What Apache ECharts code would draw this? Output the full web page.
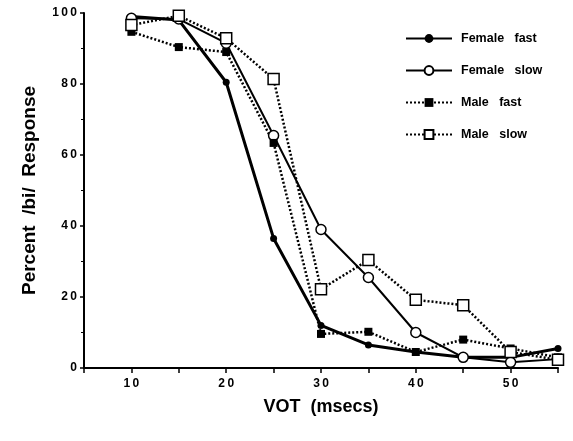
<!DOCTYPE html>
<html>
<head>
<meta charset="utf-8">
<script src="https://cdn.jsdelivr.net/npm/echarts@6/dist/echarts.min.js"></script>
<style>
html,body{margin:0;padding:0;background:#fff;}
#main{width:573px;height:441px;}
</style>
</head>
<body>
<div id="main"></div>
<script>
// VOT values (msecs)
var vot = [10, 15, 20, 25, 30, 35, 40, 45, 50, 55];
// percent /bi/ responses
var femaleFast = [99, 98, 80.5, 36.5, 12, 6.5, 4.5, 3, 3, 5.5];
var femaleSlow = [98.5, 98.3, 91.5, 65.5, 39, 25.5, 10, 3, 1.6, 2.5];
var maleFast = [94.7, 90.4, 89, 63.4, 9.6, 10.2, 4.5, 8, 5.5, 3];
var maleSlow = [96.6, 99.2, 92.9, 81.4, 22.2, 30.4, 19.2, 17.7, 4.5, 2.3];
var names = ['Female   fast', 'Female   slow', 'Male   fast', 'Male   slow'];

function pairs(arr){
	var out = [];
	for (var i = 0; i < vot.length; i++){
		out.push([vot[i], arr[i]]);
	}
	return out;
}
// spaced-out digits like the old plot
function spaced(v){
	return String(v).split('').join('\u2009');
}

var myChart = echarts.init(document.getElementById('main'));
var fnt = 'Liberation Sans, Arial, sans-serif';
var option = {
	animation: false,
	backgroundColor: '#fff',
	grid: {left: 84, right: 15, top: 13, bottom: 73},
	legend: {
		orient: 'vertical',
		left: 400,
		top: 27,
		itemWidth: 46,
		itemHeight: 11,
		itemGap: 19,
		textStyle: {fontFamily: fnt, fontWeight: 'bold', fontSize: 12.5, color: '#000', padding: [0, 0, 0, 4]},
		data: names
	},
	xAxis: {
		type: 'value',
		min: 5,
		max: 55,
		interval: 5,
		name: 'VOT  (msecs)',
		nameLocation: 'middle',
		nameGap: 30,
		nameTextStyle: {fontFamily: fnt, fontWeight: 'bold', fontSize: 18, color: '#000'},
		axisLine: {lineStyle: {color: '#000', width: 2}},
		axisTick: {length: 5, lineStyle: {color: '#000', width: 1.5}},
		splitLine: {show: false},
		axisLabel: {
			margin: 10,
			fontFamily: fnt, fontWeight: 'bold', fontSize: 12, color: '#000',
			formatter: function(v){
				if (v % 10 == 0 && v > 5 && v < 55) return spaced(v);
				return '';
			}
		}
	},
	yAxis: {
		type: 'value',
		min: 0,
		max: 100,
		interval: 20,
		name: 'Percent  /bi/  Response',
		nameLocation: 'middle',
		nameGap: 45,
		nameTextStyle: {fontFamily: fnt, fontWeight: 'bold', fontSize: 19, color: '#000'},
		axisLine: {show: true, lineStyle: {color: '#000', width: 2}},
		axisTick: {show: true, length: 4, lineStyle: {color: '#000', width: 1.5}},
		minorTick: {show: true, splitNumber: 2, length: 3, lineStyle: {color: '#000'}},
		splitLine: {show: false},
		axisLabel: {
			margin: 7,
			fontFamily: fnt, fontWeight: 'bold', fontSize: 12, color: '#000',
			formatter: spaced
		}
	},
	series: [
		{
			name: names[0], type: 'line', data: pairs(femaleFast),
			symbol: 'circle', symbolSize: 7,
			itemStyle: {color: '#000'},
			lineStyle: {color: '#000', width: 3}
		},
		{
			name: names[1], type: 'line', data: pairs(femaleSlow),
			symbol: 'circle', symbolSize: 10,
			itemStyle: {color: '#fff', borderColor: '#000', borderWidth: 1.5},
			lineStyle: {color: '#000', width: 2}
		},
		{
			name: names[2], type: 'line', data: pairs(maleFast),
			symbol: 'rect', symbolSize: 8,
			itemStyle: {color: '#000'},
			lineStyle: {color: '#000', width: 2.5, type: [2, 2]}
		},
		{
			name: names[3], type: 'line', data: pairs(maleSlow),
			symbol: 'rect', symbolSize: 11,
			itemStyle: {color: '#fff', borderColor: '#000', borderWidth: 1.5},
			lineStyle: {color: '#000', width: 2.5, type: [2, 2]}
		}
	]
};
myChart.setOption(option);
</script>
</body>
</html>
